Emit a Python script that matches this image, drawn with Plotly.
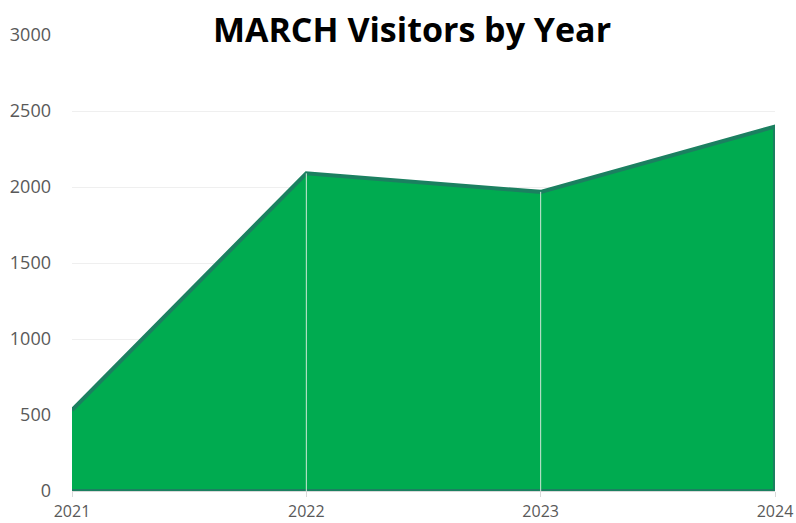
import plotly.graph_objects as go

years = [2021, 2022, 2023, 2024]
visitors = [533, 2090, 1968, 2398]
y_ticks = [0, 500, 1000, 1500, 2000, 2500, 3000]
title_text = "MARCH Visitors by Year"

# closed outline of the area (so the darker edge runs all round it)
poly_x = years + years[::-1]
poly_y = visitors + [0] * len(years)

# pale drop lines inside the area at the inner categories
drop_x, drop_y = [], []
for yr, v in zip(years[1:-1], visitors[1:-1]):
    drop_x += [yr, yr, None]
    drop_y += [0, v, None]

fig = go.Figure()
fig.add_trace(go.Scatter(
    x=poly_x, y=poly_y, mode="lines", fill="toself",
    fillcolor="#00AB50", line=dict(color="#1B8060", width=4),
    hoverinfo="skip", showlegend=False,
))
fig.add_trace(go.Scatter(
    x=drop_x, y=drop_y, mode="lines",
    line=dict(color="#CFE8D8", width=1),
    hoverinfo="skip", showlegend=False,
))
fig.add_trace(go.Scatter(
    x=years, y=visitors, mode="markers", marker=dict(size=1, opacity=0),
    hoverinfo="x+y", showlegend=False,
))

W, H = 796, 523
fig.update_layout(
    width=W, height=H,
    margin=dict(l=72, r=21, t=35, b=32),
    paper_bgcolor="white", plot_bgcolor="white",
    title=dict(text=f"<b>{title_text}</b>", x=412/W, xanchor="center",
               y=1 - 30/H, yanchor="middle", yref="container",
               font=dict(family="Open Sans", size=34, color="black")),
    font=dict(family="Open Sans", color="#595959", size=16),
)
fig.update_xaxes(
    range=[2021, 2024], tickvals=years, ticktext=[str(y) for y in years],
    showgrid=False, automargin=False,
    showline=True, linecolor="#D9D9D9", linewidth=1,
    ticks="outside", ticklen=5, tickcolor="#D9D9D9",
    ticklabelstandoff=1, zeroline=False,
    tickfont=dict(size=16, color="#595959"),
)
fig.update_yaxes(
    range=[0, 3000], tickvals=y_ticks, automargin=False,
    showgrid=True, gridcolor="#EFEFEF", gridwidth=1,
    zeroline=False, showline=False, ticks="", ticklabelstandoff=20,
    tickfont=dict(size=18, color="#595959"),
)

fig.write_html(
    "out.html",
    config={"displayModeBar": False},
    post_script="document.body.style.margin='0';document.body.style.overflow='hidden';",
)
